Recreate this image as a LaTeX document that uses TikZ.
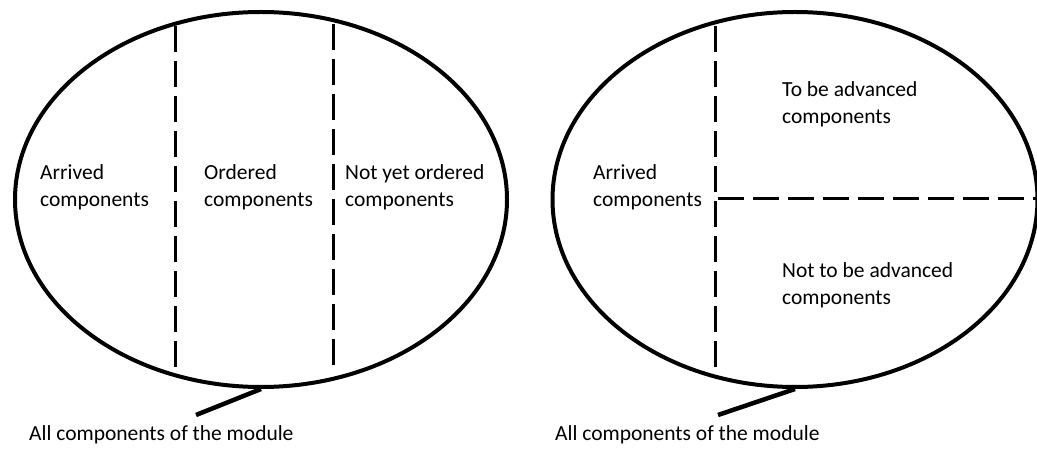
\documentclass[tikz,border=0pt]{standalone}
\usepackage{fontspec}
\setmainfont{Carlito}
\usetikzlibrary{shapes.geometric}
\begin{document}
\begin{tikzpicture}[x=1pt,y=-1pt,
  setshape/.style={draw, ellipse, line width=4pt, inner sep=0pt},
  divider/.style={line width=3pt, dash pattern=on 26pt off 9pt},
  pointer/.style={line width=4.5pt},
  lbl/.style={inner sep=0pt, anchor=north west, align=left,
    font=\fontsize{21.5}{27}\selectfont}]
\useasboundingbox (0,0) rectangle (1037,449);

% Left set: split by arrival / order status
\node[setshape, minimum width=492pt, minimum height=375pt] (E1) at (261,199.5) {};
\draw[divider] (175,26) -- (175,372);
\draw[divider] (333,24) -- (333,368);
\node[lbl] (a1) at (40,164) {Arrived\\components};
\node[lbl] (o1) at (204,164) {Ordered\\components};
\node[lbl] (n1) at (345,164) {Not yet ordered\\components};
\coordinate (p1) at (196,415);
\draw[pointer] (E1.south) -- (p1);
\node[lbl] (t1) at (29,425) {All components of the module};

% Right set: split by arrival / advancement
\node[setshape, minimum width=485pt, minimum height=375pt] (E2) at (795,199.5) {};
\draw[divider] (715,26) -- (715,372);
\draw[divider] (718,199) -- (1040,199);
\node[lbl] (a2) at (593,164) {Arrived\\components};
\node[lbl] (b2) at (782,81) {To be advanced\\components};
\node[lbl] (c2) at (782,262) {Not to be advanced\\components};
\coordinate (p2) at (718,415);
\draw[pointer] (E2.south) -- (p2);
\node[lbl] (t2) at (555,425) {All components of the module};
\end{tikzpicture}
\end{document}
